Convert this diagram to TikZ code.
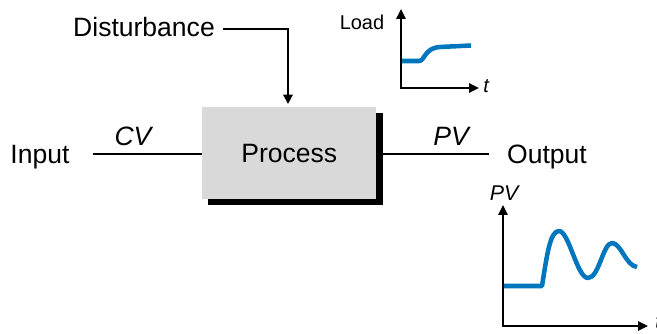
\documentclass[tikz,border=0pt]{standalone}
\usepackage{fontspec}
\setmainfont{Liberation Sans}
\usetikzlibrary{arrows.meta}
\definecolor{curveblue}{RGB}{0,118,190}
\definecolor{boxgray}{RGB}{217,217,217}
\tikzset{
  big/.style={font=\fontsize{19.9}{24}\selectfont, inner sep=0pt},
  small/.style={font=\fontsize{15}{18}\selectfont, inner sep=0pt},
  conn/.style={line width=1.6pt},
  axisline/.style={line width=1.6pt, -{Triangle[length=7.5pt,width=7pt]}},
  curve/.style={curveblue, line width=3.4pt, line cap=butt, line join=round},
}
\begin{document}
\begin{tikzpicture}[x=0.75pt,y=-0.75pt]
\useasboundingbox (0,0) rectangle (657,334);
% process box with shadow
\fill[black] (208,113) rectangle (383,205);
\node[fill=boxgray, minimum width=174*0.75pt, minimum height=92*0.75pt, inner sep=0pt, anchor=north west] (proc) at (202,107) {};
\node[big] (proctext) at (proc.center) {Process};
% labels
\node[big] (input) at (40,157) {Input};
\node[big] (output) at (547,157) {Output};
\node[big] (dist) at (144,27) {Disturbance};
\node[big] (cv) at (133,136) {\itshape CV};
\node[big] (pv) at (451,136) {\itshape PV};
% connectors
\coordinate (inend) at (93,154);
\coordinate (outend) at (489,154);
\coordinate (dstart) at (223,29);
\coordinate (dcorner) at (288,29);
\coordinate (dtip) at (288,104);
\draw[conn] (inend) -- (inend -| proc.west);
\draw[conn] (383,154) -- (outend);
\draw[conn, -{Triangle[length=7pt,width=7pt]}] (dstart) -- (dcorner) -- (dtip);
% Load graph
\coordinate (lo) at (401,88);
\coordinate (ly) at (401,9);
\coordinate (lx) at (479,88);
\draw[axisline] (lo) -- (ly);
\draw[axisline] ([xshift=-0.8pt]lo) -- (lx);
\node[small] (load) at (362,22) {Load};
\node[small, anchor=west] (lt) at (483,86) {\itshape t};
\draw[curve] (402,61) -- (419,61) .. controls (425,61) and (424,48) .. (440,47) .. controls (455,46) .. (471,45.5);
% PV graph
\coordinate (po) at (503,326);
\coordinate (py) at (503,205);
\coordinate (px) at (648,326);
\draw[axisline] (po) -- (py);
\draw[axisline] ([xshift=-0.8pt]po) -- (px);
\node[font=\fontsize{16}{19}\selectfont, inner sep=0pt] (pvl) at (504,193) {\itshape PV};
\node[small, anchor=west] (pt) at (655,322) {\itshape t};
\draw[curve] (504,286) -- (542,286) .. controls (547,255) and (550,231) .. (559,231) .. controls (569,231) and (577,278) .. (588,278) .. controls (599,278) and (603,243) .. (612,243) .. controls (621,243) and (626,266) .. (637,267);
\end{tikzpicture}
\end{document}
